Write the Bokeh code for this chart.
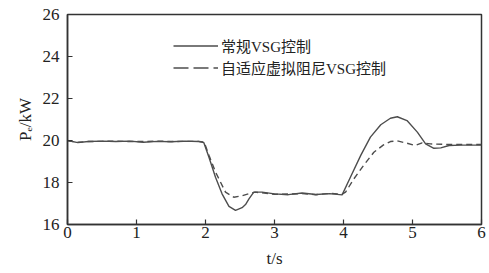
from bokeh.plotting import figure
from bokeh.models import (ColumnDataSource, Range1d, FixedTicker, Legend, LegendItem)
from bokeh.embed import file_html
from bokeh.resources import INLINE

# ---- data ----
t_conv = [0, 0.15, 0.3, 0.5, 0.7, 0.9, 1.1, 1.3, 1.5, 1.7, 1.9, 1.975, 2.05, 2.145,
          2.24, 2.34, 2.435, 2.53, 2.58, 2.63, 2.70, 2.82, 3.0, 3.2, 3.4, 3.6, 3.8,
          3.98, 4.10, 4.25, 4.39, 4.54, 4.68, 4.78, 4.92, 5.07, 5.19, 5.31, 5.41,
          5.53, 5.7, 6.0]
p_conv = [20.0, 19.9, 19.95, 19.97, 19.95, 19.97, 19.92, 19.96, 19.94, 19.97, 19.95,
          19.9, 19.2, 18.25, 17.46, 16.86, 16.67, 16.8, 16.95, 17.22, 17.54, 17.54,
          17.46, 17.42, 17.5, 17.43, 17.47, 17.41, 18.25, 19.29, 20.16, 20.75, 21.06,
          21.13, 20.95, 20.4, 19.84, 19.63, 19.65, 19.76, 19.78, 19.78]

t_adp = [0, 0.15, 0.3, 0.5, 0.7, 0.9, 1.1, 1.3, 1.5, 1.7, 1.9, 1.98, 2.05, 2.145,
         2.29, 2.41, 2.53, 2.65, 2.72, 2.85, 3.0, 3.2, 3.4, 3.6, 3.8, 3.98, 4.03,
         4.15, 4.29, 4.44, 4.58, 4.68, 4.78, 4.92, 5.04, 5.14, 5.26, 5.5, 6.0]
p_adp = [19.98, 19.92, 19.95, 19.96, 19.97, 19.95, 19.95, 19.97, 19.95, 19.96, 19.96,
         19.93, 19.3, 18.5, 17.54, 17.3, 17.37, 17.49, 17.54, 17.5, 17.44, 17.45,
         17.47, 17.42, 17.48, 17.45, 17.54, 18.17, 18.81, 19.44, 19.79, 19.95, 19.98,
         19.87, 19.76, 19.89, 19.84, 19.81, 19.81]

x_ticks = [0, 1, 2, 3, 4, 5, 6]
y_ticks = [16, 18, 20, 22, 24, 26]
series_names = ["常规VSG控制", "自适应虚拟阻尼VSG控制"]
x_title = "t/s"
y_title = "Pₑ/kW"

SERIF = "'Liberation Serif', 'DejaVu Serif'"
LEG_FONT = "'Liberation Serif', 'Noto Sans CJK SC'"
LINE_COLOR = "#4d4d4d"
AX_COLOR = "#333333"
TXT = "#222222"

p = figure(frame_width=414, frame_height=210, output_backend="svg",
           toolbar_location=None, x_range=Range1d(0, 6), y_range=Range1d(16, 26),
           min_border_left=67, min_border_right=8, min_border_top=14, min_border_bottom=49,
           x_axis_label=x_title, y_axis_label=y_title)
p.background_fill_color = "white"
p.border_fill_color = "white"
p.outline_line_color = AX_COLOR
p.outline_line_width = 1.5
p.grid.visible = False

for ax, ticks in ((p.xaxis[0], x_ticks), (p.yaxis[0], y_ticks)):
    ax.ticker = FixedTicker(ticks=ticks)
    ax.major_tick_in = 5
    ax.major_tick_out = 0
    ax.minor_tick_line_color = None
    ax.axis_line_color = AX_COLOR
    ax.axis_line_width = 1.5
    ax.major_tick_line_color = AX_COLOR
    ax.major_tick_line_width = 1.2
    ax.major_label_text_font = SERIF
    ax.major_label_text_font_size = "17px"
    ax.major_label_text_color = TXT
    ax.axis_label_text_font = SERIF
    ax.axis_label_text_font_size = "17px"
    ax.axis_label_text_font_style = "normal"
    ax.axis_label_text_color = TXT
p.xaxis.major_label_standoff = 2
p.yaxis.major_label_standoff = 8
p.xaxis.axis_label_standoff = 8
p.yaxis.axis_label_standoff = 5

src_c = ColumnDataSource(dict(t=t_conv, p=p_conv))
src_a = ColumnDataSource(dict(t=t_adp, p=p_adp))
p.line("t", "p", source=src_c, line_color=LINE_COLOR, line_width=1.4)
p.line("t", "p", source=src_a, line_color=LINE_COLOR, line_width=1.4, line_dash="6 4")

# legend sample renderers (a single NaN point, so they draw nothing in the plot)
nan_src = ColumnDataSource(dict(t=[float("nan")], p=[float("nan")]))
l1 = p.line("t", "p", source=nan_src, line_color=LINE_COLOR, line_width=1.4)
l2 = p.line("t", "p", source=nan_src, line_color=LINE_COLOR, line_width=1.4, line_dash="15 5")
legend = Legend(items=[LegendItem(label=series_names[0], renderers=[l1]),
                       LegendItem(label=series_names[1], renderers=[l2])],
                location=(106, 146), padding=0, spacing=1, margin=0,
                glyph_width=45, glyph_height=15, label_height=15, label_standoff=3,
                label_text_font=LEG_FONT, label_text_font_size="15px",
                label_text_color=TXT,
                border_line_color=None, background_fill_alpha=0)
p.add_layout(legend)

open("out.html", "w").write(file_html(p, INLINE))
